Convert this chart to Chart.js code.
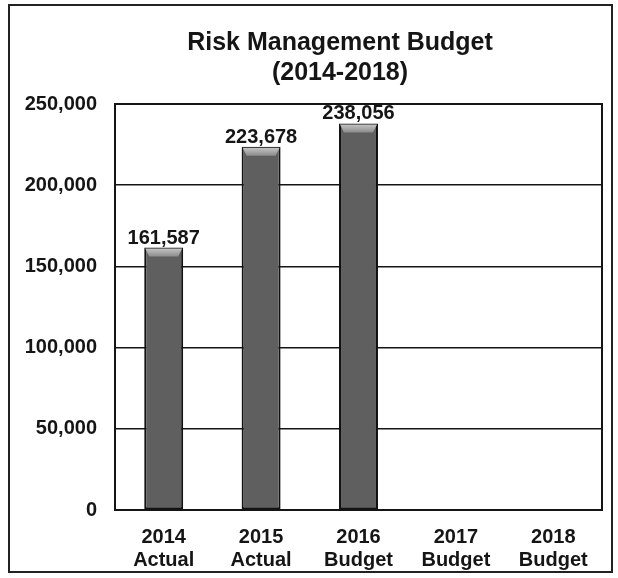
<!DOCTYPE html>
<html>
<head>
<meta charset="utf-8">
<title>Risk Management Budget</title>
<script src="https://cdn.jsdelivr.net/npm/chart.js@4.4.1/dist/chart.umd.min.js"></script>
<style>
    html, body { margin: 0; padding: 0; background: #fff; }
    #wrap { width: 618px; height: 578px; }
</style>
</head>
<body>
<div id="wrap"><canvas id="budget-chart" width="618" height="578"></canvas></div>
<script>
// Budget data
const yearLabels = [['2014', 'Actual'], ['2015', 'Actual'], ['2016', 'Budget'], ['2017', 'Budget'], ['2018', 'Budget']];
const budgetValues = [161587, 223678, 238056, null, null];
const yMin = 0;
const yMax = 250000;
const yStep = 50000;

const fontFamily = '"Liberation Sans", Arial, Helvetica, sans-serif';
const ink = '#151515';

function formatNumber(v) {
    return Number(v).toLocaleString('en-US');
}

// Le titre est centré un peu à droite du centre du canvas
const titleShift = {
    id: 'titleShift',
    afterLayout(chart) {
        if (chart.titleBlock) chart.titleBlock.left = 78;
    }
};

// Cadre extérieur + bordure de la zone du graphique
const framePlugin = {
    id: 'frames',
    afterDraw(chart) {
        const c = chart.ctx;
        const a = chart.chartArea;
        c.save();
        c.strokeStyle = ink;
        c.lineWidth = 2;
        c.strokeRect(a.left, a.top, a.right - a.left, a.bottom - a.top);
        c.strokeStyle = '#222';
        c.strokeRect(9, 5, 603, 567);
        c.restore();
    }
};

// Chapeau clair en haut de chaque barre + valeur au-dessus
const barDecorPlugin = {
    id: 'barDecor',
    afterDatasetsDraw(chart) {
        const c = chart.ctx;
        const meta = chart.getDatasetMeta(0);
        const values = chart.data.datasets[0].data;
        c.save();
        meta.data.forEach((bar, i) => {
            if (values[i] == null) return;
            const p = bar.getProps(['x', 'y', 'width'], true);
            const left = p.x - p.width / 2 + 1;
            const right = p.x + p.width / 2 - 1;
            const top = p.y + 1;
            const g = c.createLinearGradient(0, top, 0, top + 9);
            g.addColorStop(0, '#c4c4c4');
            g.addColorStop(1, '#858585');
            c.fillStyle = g;
            c.beginPath();
            c.moveTo(left, top);
            c.lineTo(right, top);
            c.lineTo(right - 4, top + 8);
            c.lineTo(left + 4, top + 8);
            c.closePath();
            c.fill();

            c.fillStyle = ink;
            c.font = 'bold 20px ' + fontFamily;
            c.textAlign = 'center';
            c.textBaseline = 'alphabetic';
            c.fillText(formatNumber(values[i]), p.x, p.y - 4);
        });
        c.restore();
    }
};

const ctx = document.getElementById('budget-chart').getContext('2d');
const budgetChart = new Chart(ctx, {
    type: 'bar',
    data: {
        labels: yearLabels,
        datasets: [{
            label: 'Budget',
            data: budgetValues,
            backgroundColor: '#5f5f5f',
            borderColor: '#111',
            borderWidth: 2,
            borderSkipped: false,
            categoryPercentage: 1,
            barPercentage: 0.4
        }]
    },
    options: {
        responsive: false,
        animation: false,
        layout: {
            padding: { left: 0, right: 16, top: 0, bottom: 0 }
        },
        plugins: {
            legend: { display: false },
            tooltip: { enabled: false },
            title: {
                display: true,
                text: ['Risk Management Budget', '(2014-2018)'],
                color: ink,
                font: { family: fontFamily, size: 25, weight: 'bold', lineHeight: 1.2 },
                padding: { top: 28, bottom: 16 }
            }
        },
        scales: {
            x: {
                grid: { display: false, drawTicks: false },
                border: { display: false },
                ticks: {
                    color: ink,
                    padding: 16,
                    font: { family: fontFamily, size: 20, weight: 'bold', lineHeight: 1.15 }
                },
                afterFit(scale) { scale.height = 68; }
            },
            y: {
                min: yMin,
                max: yMax,
                grid: { color: ink, lineWidth: 1.5, drawTicks: false },
                border: { display: false },
                ticks: {
                    stepSize: yStep,
                    color: ink,
                    padding: 18,
                    font: { family: fontFamily, size: 20, weight: 'bold' },
                    callback: (v) => formatNumber(v)
                },
                afterFit(scale) { scale.width = 115; }
            }
        }
    },
    plugins: [titleShift, framePlugin, barDecorPlugin]
});
</script>
</body>
</html>
